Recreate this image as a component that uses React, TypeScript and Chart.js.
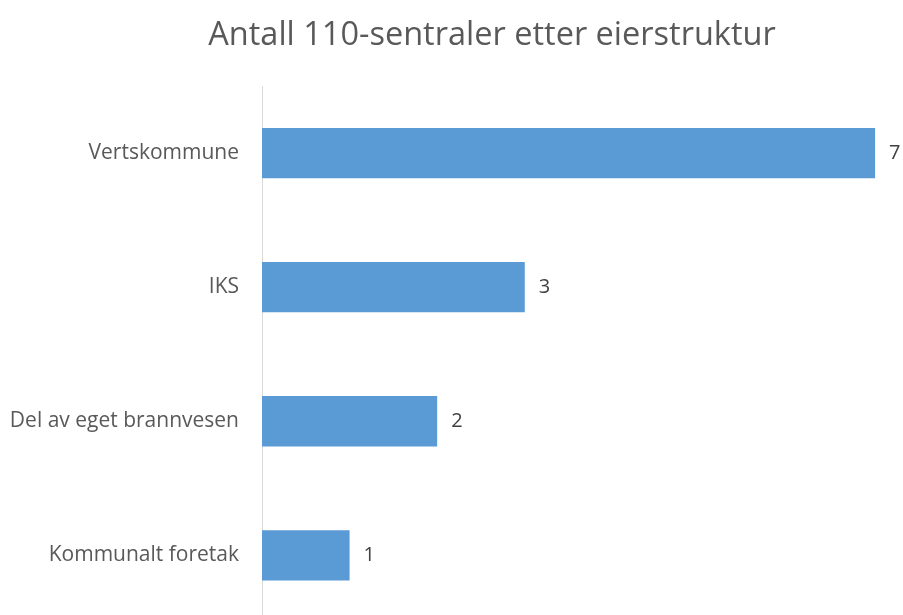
import React, { useEffect, useRef } from "react";
import { Chart, registerables } from "chart.js";

Chart.register(...registerables);

const categories = ["Vertskommune", "IKS", "Del av eget brannvesen", "Kommunalt foretak"];
const values = [7, 3, 2, 1];
const chartTitle = "Antall 110-sentraler etter eierstruktur";

const FONT = "'Open Sans', 'Noto Sans', sans-serif";

export default function App() {
  const ref = useRef<HTMLCanvasElement | null>(null);
  useEffect(() => {
    if (!ref.current) return;
    const titlePlugin = {
      id: "customTitle",
      afterDraw(chart: any) {
        const ctx = chart.ctx;
        ctx.save();
        ctx.font = `32.5px ${FONT}`;
        ctx.fillStyle = "#595959";
        ctx.textAlign = "center";
        ctx.textBaseline = "middle";
        ctx.fillText(chartTitle, 492, 36);
        ctx.restore();
      },
    };
    const labelPlugin = {
      id: "valueLabels",
      afterDatasetsDraw(chart: any) {
        const ctx = chart.ctx;
        const meta = chart.getDatasetMeta(0);
        ctx.save();
        ctx.font = `20px ${FONT}`;
        ctx.fillStyle = "#404040";
        ctx.textAlign = "left";
        ctx.textBaseline = "middle";
        meta.data.forEach((bar: any, i: number) => {
          ctx.fillText(String(values[i]), bar.x + 14, bar.y);
        });
        ctx.restore();
      },
    };
    const chart = new Chart(ref.current, {
      type: "bar",
      data: {
        labels: categories,
        datasets: [
          {
            data: values,
            backgroundColor: "#5B9BD5",
            borderWidth: 0,
            barPercentage: 0.75,
            categoryPercentage: 0.5,
          },
        ],
      },
      options: {
        indexAxis: "y",
        animation: false,
        responsive: false,
        maintainAspectRatio: false,
        layout: { padding: { top: 86, bottom: 4, left: 0, right: 6 } },
        plugins: {
          legend: { display: false },
          title: { display: false },
          tooltip: { enabled: false },
        },
        scales: {
          x: {
            display: false,
            min: 0,
            max: 7.25,
          },
          y: {
            grid: { display: false, drawTicks: false },
            border: { display: true, color: "#d9d9d9", width: 1 },
            ticks: {
              color: "#595959",
              font: { family: FONT, size: 21 },
              padding: 23,
            },
            afterFit(scale: any) {
              scale.width = 262;
            },
          },
        },
      },
      plugins: [titlePlugin, labelPlugin],
    });
    return () => chart.destroy();
  }, []);
  return (
    <div style={{ position: "fixed", left: 0, top: 0, width: 903, height: 658, background: "#fff" }}>
      <canvas ref={ref} width={903} height={658} style={{ display: "block" }} />
    </div>
  );
}
